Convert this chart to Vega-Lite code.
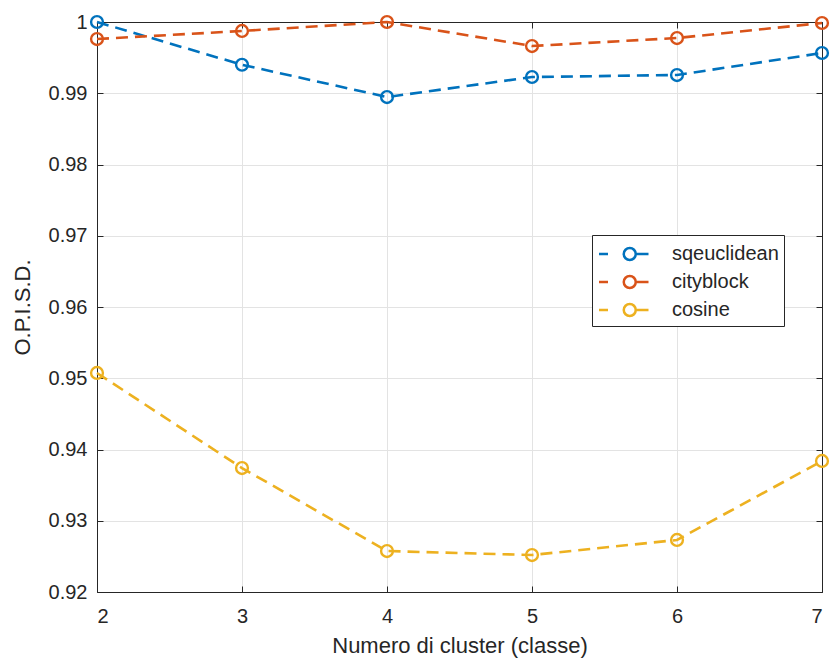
{
  "$schema": "https://vega.github.io/schema/vega-lite/v6.json",
  "width": 725,
  "height": 570,
  "autosize": {"type": "none"},
  "padding": {"left": 97, "top": 22, "right": 8, "bottom": 72},
  "background": "white",
  "config": {
    "font": "Liberation Sans",
    "view": {"stroke": "#262626", "strokeWidth": 1},
    "axis": {
      "domainColor": "#262626",
      "tickColor": "#262626",
      "labelColor": "#262626",
      "titleColor": "#262626",
      "labelFontSize": 20,
      "titleFontSize": 22,
      "titleFontWeight": "normal",
      "gridColor": "#e3e3e3",
      "tickSize": -6
    }
  },
  "data": {
    "values": [
      {"k": 2, "v": 1.0, "metric": "sqeuclidean"},
      {"k": 3, "v": 0.9940, "metric": "sqeuclidean"},
      {"k": 4, "v": 0.98947, "metric": "sqeuclidean"},
      {"k": 5, "v": 0.99228, "metric": "sqeuclidean"},
      {"k": 6, "v": 0.99256, "metric": "sqeuclidean"},
      {"k": 7, "v": 0.99565, "metric": "sqeuclidean"},
      {"k": 2, "v": 0.99761, "metric": "cityblock"},
      {"k": 3, "v": 0.99874, "metric": "cityblock"},
      {"k": 4, "v": 1.0, "metric": "cityblock"},
      {"k": 5, "v": 0.99663, "metric": "cityblock"},
      {"k": 6, "v": 0.99775, "metric": "cityblock"},
      {"k": 7, "v": 0.99986, "metric": "cityblock"},
      {"k": 2, "v": 0.95074, "metric": "cosine"},
      {"k": 3, "v": 0.93740, "metric": "cosine"},
      {"k": 4, "v": 0.92575, "metric": "cosine"},
      {"k": 5, "v": 0.92519, "metric": "cosine"},
      {"k": 6, "v": 0.92730, "metric": "cosine"},
      {"k": 7, "v": 0.93839, "metric": "cosine"}
    ]
  },
  "layer": [
    {
      "mark": {"type": "line", "strokeDash": [12, 7], "strokeWidth": 2.6, "clip": false},
      "encoding": {
        "x": {
          "field": "k", "type": "quantitative",
          "scale": {"domain": [2, 7], "nice": false, "zero": false},
          "axis": {"orient": "bottom", "values": [2, 3, 4, 5, 6, 7], "title": "Numero di cluster (classe)", "labelPadding": 20, "titlePadding": 9, "grid": true}
        },
        "y": {
          "field": "v", "type": "quantitative",
          "scale": {"domain": [0.92, 1.0], "nice": false, "zero": false},
          "axis": {"orient": "left", "values": [0.92, 0.93, 0.94, 0.95, 0.96, 0.97, 0.98, 0.99, 1.0], "format": ".2~f", "title": "O.P.I.S.D.", "labelPadding": 16, "titlePadding": 14, "grid": true}
        },
        "color": {
          "field": "metric", "type": "nominal",
          "scale": {"domain": ["sqeuclidean", "cityblock", "cosine"], "range": ["#0072BD", "#D95319", "#EDB120"]},
          "legend": {
            "orient": "none", "legendX": 495, "legendY": 213,
            "title": null,
            "strokeColor": "#262626", "fillColor": "white",
            "padding": 5,
            "labelFontSize": 20, "labelColor": "#262626",
            "symbolType": "M-0.96,0H-0.24M1.98,0A0.48,0.48 0 1,1 1.02,0A0.48,0.48 0 1,1 1.98,0M2.06,0H3.0",
            "symbolSize": 625,
            "symbolStrokeWidth": 2.5,
            "symbolFillColor": "transparent",
            "rowPadding": 3,
            "labelOffset": 47
          }
        },
        "detail": {"field": "metric"},
        "order": {"field": "k"}
      }
    },
    {
      "mark": {"type": "point", "shape": "circle", "size": 140, "strokeWidth": 2.4, "filled": false, "opacity": 1, "clip": false},
      "encoding": {
        "x": {
          "field": "k", "type": "quantitative",
          "axis": {"orient": "top", "values": [2, 3, 4, 5, 6, 7], "labels": false, "title": null, "grid": false}
        },
        "y": {
          "field": "v", "type": "quantitative",
          "axis": {"orient": "right", "values": [0.92, 0.93, 0.94, 0.95, 0.96, 0.97, 0.98, 0.99, 1.0], "labels": false, "title": null, "grid": false}
        },
        "color": {"field": "metric", "type": "nominal"}
      }
    }
  ],
  "resolve": {"axis": {"x": "independent", "y": "independent"}}
}
